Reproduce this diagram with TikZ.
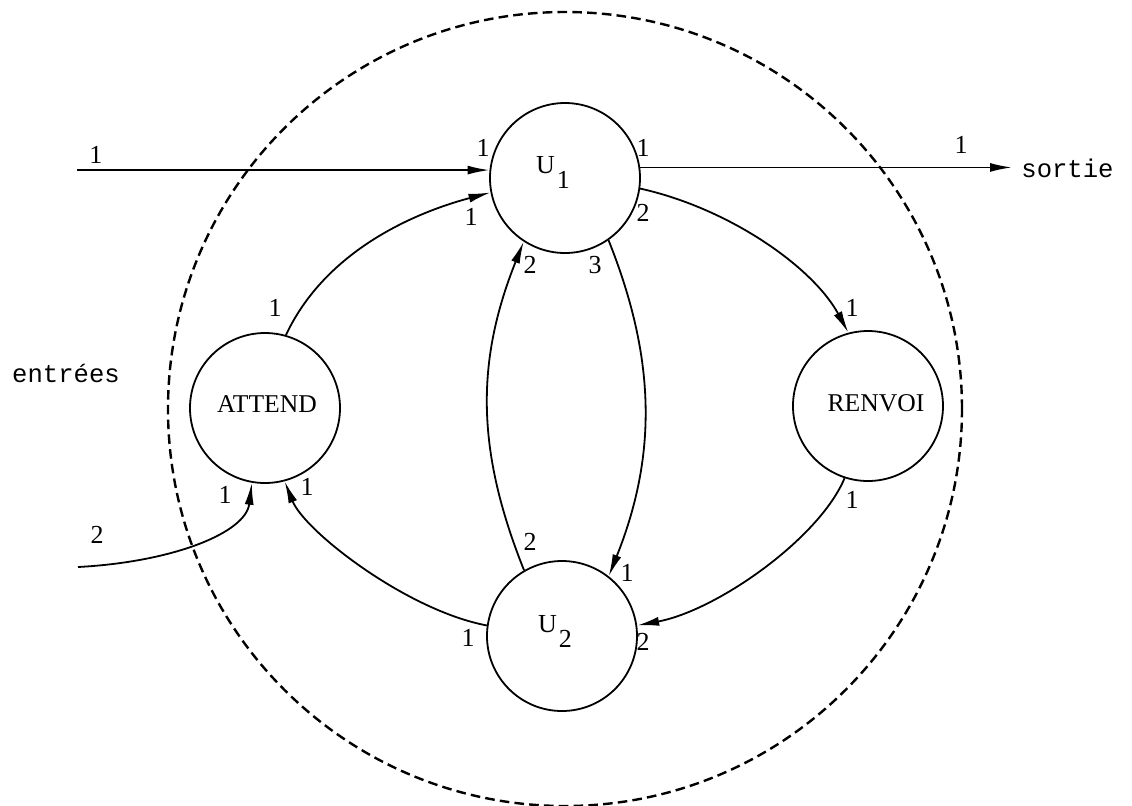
\documentclass[tikz,border=0pt]{standalone}
\usepackage{fontspec}
\setmainfont{Liberation Serif}
\newfontfamily\monofont{Liberation Mono}
\usetikzlibrary{arrows.meta}
\begin{document}
\begin{tikzpicture}[x=0.5pt,y=-0.5pt,
  state/.style={circle,draw,line width=0.9pt,minimum size=75pt,inner sep=0pt},
  txt/.style={inner sep=0pt,font=\fontsize{12.8}{14}\selectfont},
  lab/.style={inner sep=0pt,font=\fontsize{13}{15}\selectfont},
  arr/.style={line width=0.9pt,-{Latex[length=11pt,width=4.5pt]}},
  mono/.style={inner sep=0pt,font=\monofont\fontsize{12.8}{15}\selectfont}]
\useasboundingbox (0,0) rectangle (1132,805);
% boundary
\draw[line width=1.2pt,dash pattern=on 4.8pt off 2.6pt] (565,409) circle[radius=198.5pt];
% states
\node[state] (U1) at (565,178) {};
\node[state] (ATT) at (265,408) {};
\node[state] (REN) at (868,406) {};
\node[state] (U2) at (562,636) {};
\node[lab] (U1t) at (553,172) {U\hspace{1pt}\raisebox{-7.5pt}{1}};
\node[lab] (U2t) at (555,631) {U\hspace{1pt}\raisebox{-7.5pt}{2}};
\node[txt] (ATTt) at (267,404) {ATTEND};
\node[txt] (RENt) at (876,403) {RENVOI};
% outside texts
\node[mono] (ent) at (66,373) {entrées};
\node[mono,anchor=west] (sort) at (1021,168) {sortie};
% free ends
\coordinate (in1) at (77,170);
\coordinate (in2) at (78,567);
\coordinate (out1) at (1012,168);
% connectors
\draw[arr] (U1.174 -| in1) -- (U1.174);
\draw[arr] (U1.8) -- (U1.8 -| out1);
\draw[arr] (in2) .. controls +(95,-5) and +(-6,50) .. (ATT.260);
\draw[arr] (ATT.74) .. controls +(40,-85) and +(-75,20) .. (U1.191);
\draw[arr] (U1.352) .. controls +(90,20) and +(-35,-65) .. (REN.105);
\draw[arr] (REN.252) .. controls +(-25,60) and +(80,-15) .. (U2.8);
\draw[arr] (U2.172) .. controls +(-80,-15) and +(20,50) .. (ATT.285);
\draw[arr] (U2.120) .. controls +(-48,-120) and +(-48,120) .. (U1.237);
\draw[arr] (U1.305) .. controls +(48,120) and +(48,-120) .. (U2.52);
% port labels
\node[lab] (l1) at (96,155) {1};
\node[lab] (l2) at (483,148) {1};
\node[lab] (l3) at (471,217) {1};
\node[lab] (l4) at (643,148) {1};
\node[lab] (l5) at (643,213) {2};
\node[lab] (l6) at (961,145) {1};
\node[lab] (l7) at (530,265) {2};
\node[lab] (l8) at (595,265) {3};
\node[lab] (l9) at (275,308) {1};
\node[lab] (l10) at (852,308) {1};
\node[lab] (l11) at (852,500) {1};
\node[lab] (l12) at (97,535) {2};
\node[lab] (l13) at (225,495) {1};
\node[lab] (l14) at (307,487) {1};
\node[lab] (l15) at (530,542) {2};
\node[lab] (l16) at (627,573) {1};
\node[lab] (l17) at (468,638) {1};
\node[lab] (l18) at (643,642) {2};
\end{tikzpicture}
\end{document}
